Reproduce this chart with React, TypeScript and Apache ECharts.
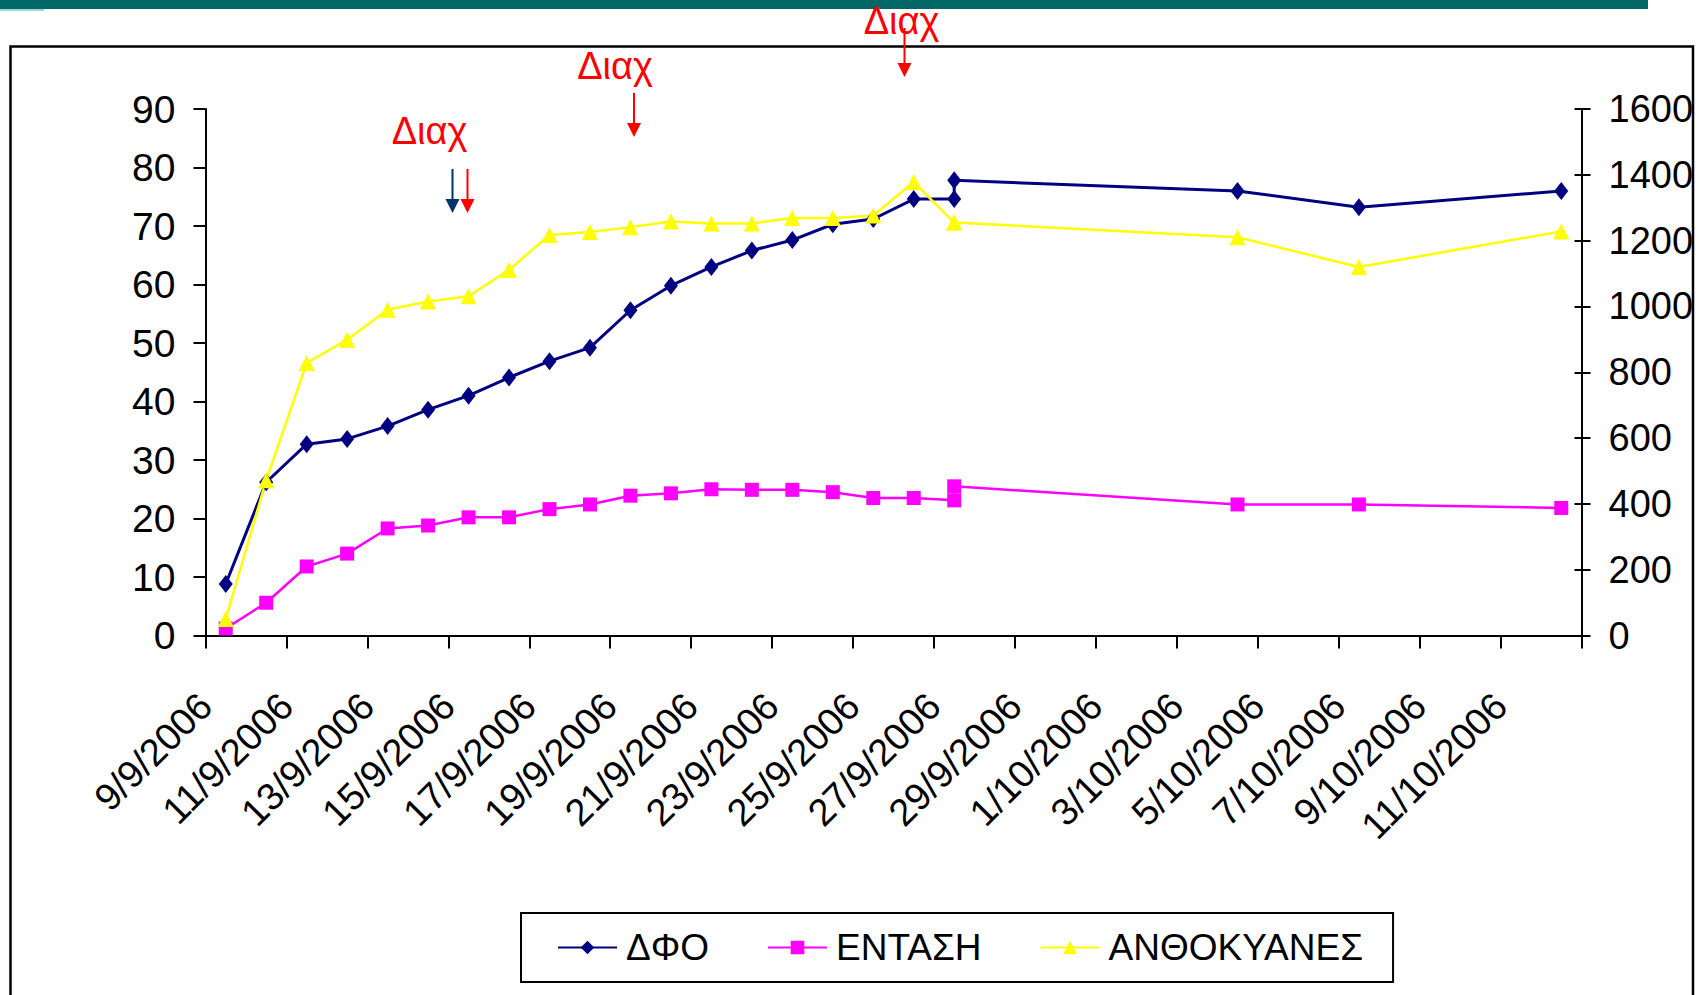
import React, { useEffect, useRef } from "react";
import * as echarts from "echarts";

const FONT = '"Liberation Sans", Arial, sans-serif';

// sampling dates (two measurements on 27/9/2006)
const sampleDates = [
  "9/9/2006", "10/9/2006", "11/9/2006", "12/9/2006", "13/9/2006", "14/9/2006",
  "15/9/2006", "16/9/2006", "17/9/2006", "18/9/2006", "19/9/2006", "20/9/2006",
  "21/9/2006", "22/9/2006", "23/9/2006", "24/9/2006", "25/9/2006", "26/9/2006",
  "27/9/2006", "27/9/2006", "4/10/2006", "7/10/2006", "12/10/2006",
];

const dfo = [8.8, 26.2, 32.7, 33.6, 35.8, 38.6, 41.0, 44.1, 46.9, 49.2, 55.6, 59.8, 63.0, 65.8, 67.6, 70.3, 71.2, 74.6, 74.6, 77.8, 76.0, 73.2, 76.0];
const entasi = [1.2, 5.6, 11.8, 14.0, 18.3, 18.8, 20.2, 20.2, 21.6, 22.4, 23.9, 24.3, 25.0, 24.9, 24.9, 24.5, 23.5, 23.5, 23.1, 25.5, 22.4, 22.4, 21.8];
const anthokyanes = [50, 472, 828, 899, 990, 1015, 1031, 1111, 1217, 1226, 1241, 1258, 1252, 1252, 1269, 1269, 1276, 1378, 1255, 1255, 1210, 1120, 1228];

const seriesNames = ["ΔΦΟ", "ΕΝΤΑΣΗ", "ΑΝΘΟΚΥΑΝΕΣ"];

const xTickLabels = [
  "9/9/2006", "11/9/2006", "13/9/2006", "15/9/2006", "17/9/2006", "19/9/2006",
  "21/9/2006", "23/9/2006", "25/9/2006", "27/9/2006", "29/9/2006", "1/10/2006",
  "3/10/2006", "5/10/2006", "7/10/2006", "9/10/2006", "11/10/2006",
];

const leftTicks = { min: 0, max: 90, interval: 10 };
const rightTicks = { min: 0, max: 1600, interval: 200 };
const axisDays = 34; // 9/9/2006 .. 12/10/2006 (day slots)

const annotationText = "Διαχ";

function dayIndex(s: string): number {
  const [d, m, y] = s.split("/").map(Number);
  const t0 = Date.UTC(2006, 8, 9);
  return Math.round((Date.UTC(y, m - 1, d) - t0) / 86400000);
}

function toPoints(values: number[]) {
  // points are centred in their day slot (Excel date axis "between tick marks")
  return values.map((v, i) => [dayIndex(sampleDates[i]) + 0.5, v]);
}

function arrow(x: number, y1: number, y2: number, color: string) {
  return [
    { type: "line", shape: { x1: x, y1, x2: x, y2: y2 - 12 }, style: { stroke: color, lineWidth: 2 } },
    { type: "polygon", shape: { points: [[x - 7, y2 - 14], [x + 7, y2 - 14], [x, y2]] }, style: { fill: color } },
  ];
}

export default function App() {
  const ref = useRef<HTMLDivElement>(null);
  useEffect(() => {
    if (!ref.current) return;
    const chart = echarts.init(ref.current, undefined, { renderer: "svg" });
    const axisLine = { show: true, lineStyle: { color: "#000", width: 2 } };
    const plain = (v: number) => String(v);
    const option: any = {
      animation: false,
      backgroundColor: "#fff",
      textStyle: { fontFamily: FONT },
      grid: { left: 205.5, right: 118.5, top: 109, bottom: 359.5, containLabel: false, outerBoundsMode: "none" },
      xAxis: {
        type: "value",
        min: 0,
        max: axisDays,
        interval: 2,
        axisLine,
        axisTick: { show: true, length: 13, lineStyle: { color: "#000", width: 2 } },
        splitLine: { show: false },
        axisLabel: {
          rotate: 45,
          fontSize: 38,
          fontFamily: FONT,
          color: "#000",
          margin: 64,
          showMaxLabel: true,
          formatter: (v: number) => xTickLabels[Math.round(v / 2)] ?? "",
        },
      },
      yAxis: [
        {
          type: "value",
          position: "left",
          ...leftTicks,
          axisLine,
          axisTick: { show: true, length: 12, lineStyle: { color: "#000", width: 2 } },
          splitLine: { show: false },
          axisLabel: { fontSize: 39, fontFamily: FONT, color: "#000", margin: 30, formatter: plain },
        },
        {
          type: "value",
          position: "right",
          ...rightTicks,
          axisLine,
          axisTick: { show: true, length: 9, lineStyle: { color: "#000", width: 2 } },
          splitLine: { show: false },
          axisLabel: { fontSize: 38, fontFamily: FONT, color: "#000", margin: 27, formatter: plain },
        },
        {
          type: "value",
          position: "right",
          ...rightTicks,
          axisLine: { show: false },
          axisTick: { show: true, inside: true, length: 7, lineStyle: { color: "#000", width: 2 } },
          splitLine: { show: false },
          axisLabel: { show: false },
        },
      ],
      legend: {
        left: 521,
        top: 913,
        padding: [16, 30, 16, 36],
        itemGap: 58,
        itemWidth: 59,
        itemHeight: 17,
        borderColor: "#000",
        borderWidth: 2,
        textStyle: { fontSize: 37, fontFamily: FONT, color: "#000", padding: [0, 0, 0, 4] },
        data: seriesNames,
      },
      series: [
        {
          name: seriesNames[0],
          type: "line",
          yAxisIndex: 0,
          data: toPoints(dfo),
          symbol: "diamond",
          symbolSize: [14, 18],
          lineStyle: { color: "#000080", width: 3 },
          itemStyle: { color: "#000080" },
        },
        {
          name: seriesNames[1],
          type: "line",
          yAxisIndex: 0,
          data: toPoints(entasi),
          symbol: "rect",
          symbolSize: 14,
          lineStyle: { color: "#FF00FF", width: 2.5 },
          itemStyle: { color: "#FF00FF" },
        },
        {
          name: seriesNames[2],
          type: "line",
          yAxisIndex: 1,
          data: toPoints(anthokyanes),
          symbol: "triangle",
          symbolSize: 16,
          lineStyle: { color: "#FFFF00", width: 2.5 },
          itemStyle: { color: "#FFFF00" },
        },
      ],
      graphic: [
        { type: "rect", shape: { x: 0, y: 0, width: 1648, height: 9 }, style: { fill: "#006666" } },
        { type: "rect", shape: { x: 0, y: 9, width: 44, height: 2 }, style: { fill: "#9fd6d6" } },
        { type: "rect", shape: { x: 10.5, y: 46.5, width: 1682.5, height: 1000 }, style: { fill: "none", stroke: "#000", lineWidth: 2.5 } },
        { type: "text", x: 429.5, y: 131, style: { text: annotationText, fontSize: 38, fontFamily: FONT, fill: "#FF0000", align: "center", verticalAlign: "middle" } },
        { type: "text", x: 615, y: 66, style: { text: annotationText, fontSize: 38, fontFamily: FONT, fill: "#FF0000", align: "center", verticalAlign: "middle" } },
        { type: "text", x: 901.5, y: 21, style: { text: annotationText, fontSize: 38, fontFamily: FONT, fill: "#FF0000", align: "center", verticalAlign: "middle" } },
        ...arrow(452.5, 169, 213, "#003366"),
        ...arrow(467.5, 169, 213, "#FF0000"),
        ...arrow(634, 93, 137, "#FF0000"),
        ...arrow(904.5, 28, 77, "#FF0000"),
      ],
    };
    chart.setOption(option);
    return () => chart.dispose();
  }, []);
  return (
    <div
      ref={ref}
      style={{ position: "absolute", left: 0, top: 0, width: 1700, height: 995, background: "#fff" }}
    />
  );
}
